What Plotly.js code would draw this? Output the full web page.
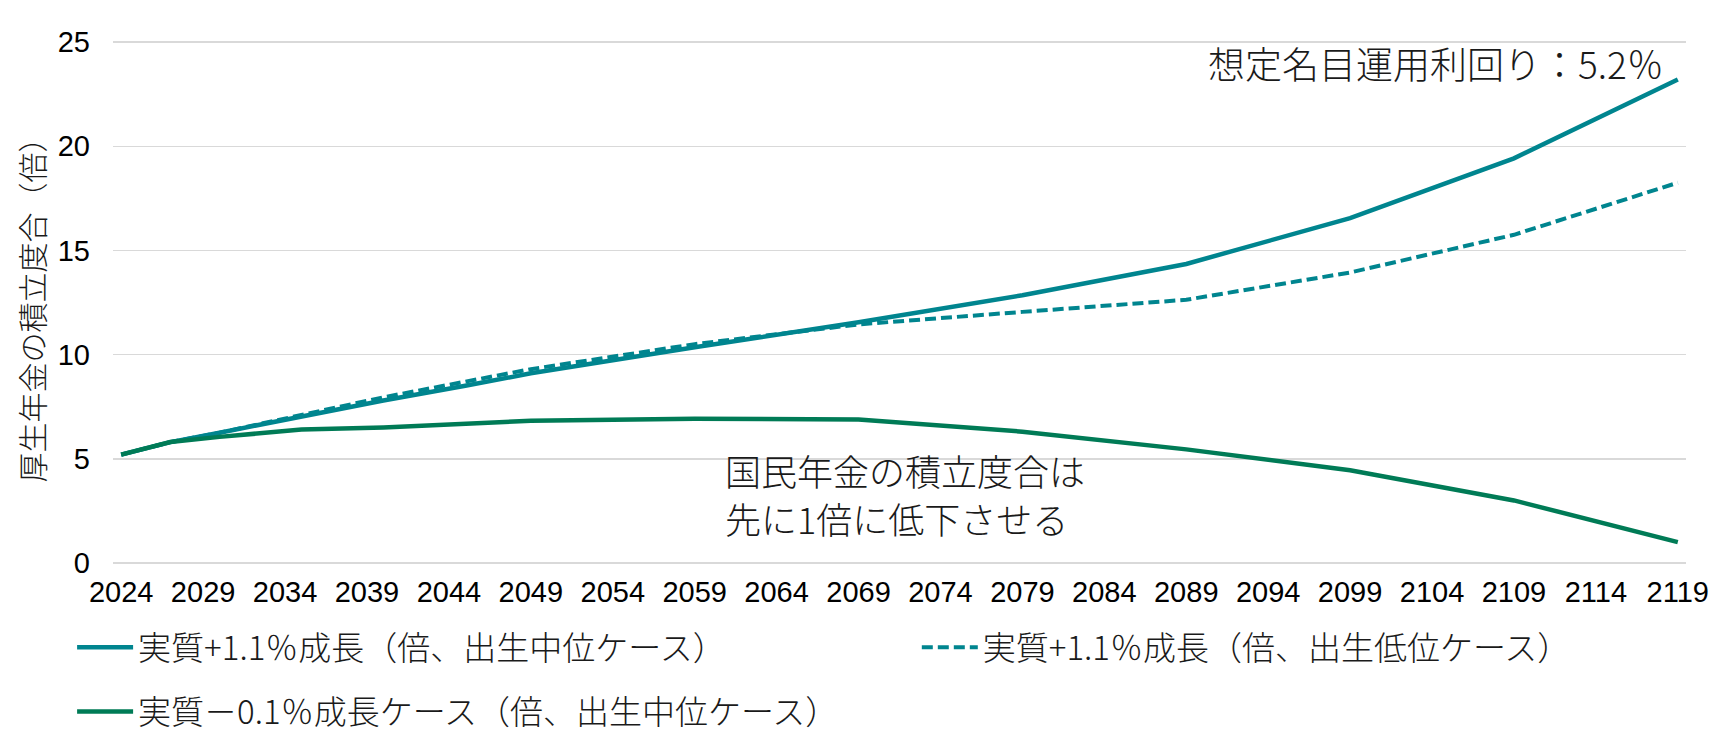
<!DOCTYPE html>
<html>
<head>
<meta charset="utf-8">
<script src="https://cdn.plot.ly/plotly-3.0.1.min.js"></script>
<style>
  html, body { margin: 0; padding: 0; background: #ffffff; }
  #chart { width: 1731px; height: 751px; }
</style>
</head>
<body>
<div id="chart"></div>
<script>
// 厚生年金の積立度合の将来見通し（倍）
const years = [2024, 2025, 2027, 2030, 2035, 2040, 2045, 2049, 2059, 2069, 2079, 2089, 2099, 2109, 2119];

// 実質+1.1%成長・出生中位
const growthMid = [5.2, 5.4, 5.8, 6.25, 7.05, 7.8, 8.5, 9.1, 10.35, 11.55, 12.85, 14.35, 16.55, 19.42, 23.2];
// 実質+1.1%成長・出生低位
const growthLow = [5.2, 5.4, 5.8, 6.25, 7.1, 7.95, 8.7, 9.3, 10.5, 11.45, 12.05, 12.63, 13.94, 15.75, 18.25];
// 実質-0.1%成長・出生中位
const declineMid = [5.2, 5.4, 5.8, 6.05, 6.4, 6.5, 6.65, 6.82, 6.92, 6.88, 6.3, 5.45, 4.45, 3.0, 1.0];

const seriesNames = [
  "実質+1.1％成長（倍、出生中位ケース）",
  "実質+1.1％成長（倍、出生低位ケース）",
  "実質－0.1％成長ケース（倍、出生中位ケース）"
];

const tickYears = [];
for (let y = 2024; y <= 2119; y += 5) tickYears.push(y);
const yTicks = [0, 5, 10, 15, 20, 25];

const noteHigh = "想定名目運用利回り：5.2％";
const noteLow = "想定名目運用利回り：3.0％";
const noteNational1 = "国民年金の積立度合は";
const noteNational2 = "先に1倍に低下させる";
const yTitle = "厚生年金の積立度合（倍）";

const TEAL = "#00858f";
const GREEN = "#007b56";
const CJK = "'Noto Sans CJK JP', 'Noto Sans', sans-serif";
const LATIN = "'Liberation Sans', Arial, sans-serif";
const INK = "#1a1a1a";

const traces = [
  {
    x: years, y: growthMid, name: seriesNames[0], type: "scatter", mode: "lines",
    line: { color: TEAL, width: 4.5 }, legend: "legend"
  },
  {
    x: years, y: growthLow, name: seriesNames[1], type: "scatter", mode: "lines",
    line: { color: TEAL, width: 4, dash: "11px,5px" }, legend: "legend3"
  },
  {
    x: years, y: declineMid, name: seriesNames[2], type: "scatter", mode: "lines",
    line: { color: GREEN, width: 4.5 }, legend: "legend2"
  }
];

const legendBase = {
  orientation: "h",
  xanchor: "left",
  yanchor: "middle",
  font: { family: CJK, size: 33, color: INK, weight: 300 },
  itemwidth: 56,
  bgcolor: "rgba(0,0,0,0)",
  borderwidth: 0
};

const noteFont = { family: CJK, size: 37, color: INK, weight: 300 };
const noteFontSmall = { family: CJK, size: 36, color: INK, weight: 300 };

const layout = {
  width: 1731,
  height: 751,
  margin: { l: 113, r: 45, t: 40, b: 179 },
  paper_bgcolor: "#ffffff",
  plot_bgcolor: "#ffffff",
  showlegend: true,
  xaxis: {
    range: [2023.5, 2119.5],
    tickmode: "array",
    tickvals: tickYears,
    ticktext: tickYears.map(String),
    showgrid: false,
    zeroline: false,
    showline: false,
    ticks: "",
    ticklabelstandoff: 7,
    tickfont: { family: LATIN, size: 29, color: "#000000" }
  },
  yaxis: {
    range: [-0.1, 25.1],
    tickmode: "array",
    tickvals: yTicks,
    ticktext: yTicks.map(String),
    showgrid: true,
    gridcolor: "#d9d9d9",
    gridwidth: 1.5,
    zeroline: false,
    showline: false,
    ticks: "",
    ticklabelstandoff: 22,
    tickfont: { family: LATIN, size: 29, color: "#000000" },
    title: { text: yTitle, font: { family: CJK, size: 30, color: INK, weight: 300 }, standoff: 4 }
  },
  legend: Object.assign({}, legendBase, { x: -0.026, y: -0.157 }),
  legend2: Object.assign({}, legendBase, { x: -0.026, y: -0.279 }),
  legend3: Object.assign({}, legendBase, { x: 0.511, y: -0.157 }),
  annotations: [
    {
      x: 2118.3, y: 24.0, xref: "x", yref: "y", text: noteHigh, showarrow: false,
      xanchor: "right", yanchor: "middle", font: noteFont
    },
    {
      x: 2119.6, y: 6.84, xref: "x", yref: "y", text: noteLow, showarrow: false,
      xanchor: "right", yanchor: "middle", font: noteFont
    },
    {
      x: 2060.8, y: 4.48, xref: "x", yref: "y", text: noteNational1, showarrow: false,
      xanchor: "left", yanchor: "middle", align: "left", borderpad: 0, font: noteFontSmall
    },
    {
      x: 2060.8, y: 2.15, xref: "x", yref: "y", text: noteNational2, showarrow: false,
      xanchor: "left", yanchor: "middle", align: "left", borderpad: 0, font: noteFontSmall
    }
  ]
};

Plotly.newPlot("chart", traces, layout, { staticPlot: true, displayModeBar: false });
</script>
</body>
</html>
